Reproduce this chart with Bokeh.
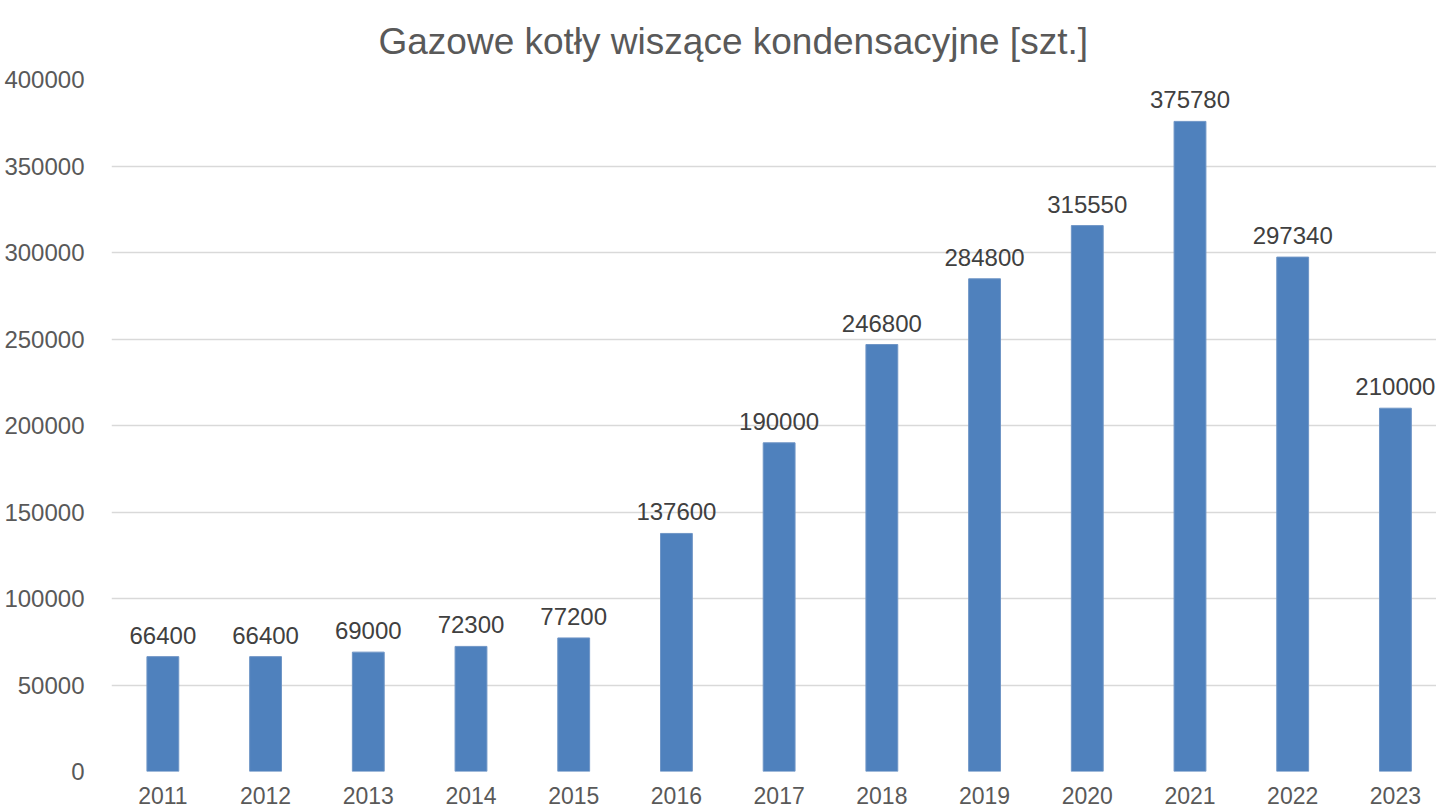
from bokeh.plotting import figure
from bokeh.models import ColumnDataSource, Range1d, FixedTicker, LabelSet, NumeralTickFormatter
from bokeh.core.properties import value
from bokeh.embed import file_html
from bokeh.resources import INLINE

years = [2011, 2012, 2013, 2014, 2015, 2016, 2017, 2018, 2019, 2020, 2021, 2022, 2023]
values = [66400, 66400, 69000, 72300, 77200, 137600, 190000, 246800, 284800, 315550, 375780, 297340, 210000]
labels = [str(v) for v in values]
y_ticks = [0, 50000, 100000, 150000, 200000, 250000, 300000, 350000, 400000]

FONT = "Liberation Sans"
BAR = "#4F81BD"

src = ColumnDataSource(dict(x=years, top=values, label=labels))

p = figure(width=1436, height=809, output_backend="svg", toolbar_location=None,
           x_range=Range1d(2010.5, 2023.40), y_range=Range1d(0, 400000),
           min_border_left=111, min_border_right=0, min_border_top=79, min_border_bottom=38,
           title="Gazowe kotły wiszące kondensacyjne [szt.]")
p.outline_line_color = None
p.background_fill_color = "white"
p.border_fill_color = "white"

p.title.text_font = FONT
p.title.text_font_size = "37px"
p.title.text_font_style = "normal"
p.title.text_color = "#595959"
p.title.align = "left"
p.title.offset = 267
p.title.standoff = 35

p.vbar(x="x", top="top", width=0.31, bottom=0, source=src,
       fill_color=BAR, line_color="#6f95c6", line_width=1)

p.add_layout(LabelSet(x="x", y="top", text="label", source=src,
                      text_align="center", text_baseline="bottom", y_offset=13,
                      text_font=value(FONT), text_font_size=value("24px"),
                      text_color="#404040"))

p.xaxis.ticker = FixedTicker(ticks=years)
p.yaxis.ticker = FixedTicker(ticks=y_ticks)
p.yaxis.formatter = NumeralTickFormatter(format="0")
for ax in (p.xaxis[0], p.yaxis[0]):
    ax.axis_line_color = None
    ax.major_tick_line_color = None
    ax.minor_tick_line_color = None
    ax.major_label_text_font = FONT
    ax.major_label_text_font_size = "24px"
    ax.major_label_text_color = "#595959"
p.xaxis.major_label_text_font_size = "23px"
p.yaxis.major_label_standoff = 21
p.xaxis.major_label_standoff = 9

p.xgrid.grid_line_color = None
p.ygrid.grid_line_color = "#d9d9d9"
p.ygrid.grid_line_width = 1.5
p.ygrid.ticker = FixedTicker(ticks=y_ticks)

open("out.html", "w").write(file_html(p, INLINE))
